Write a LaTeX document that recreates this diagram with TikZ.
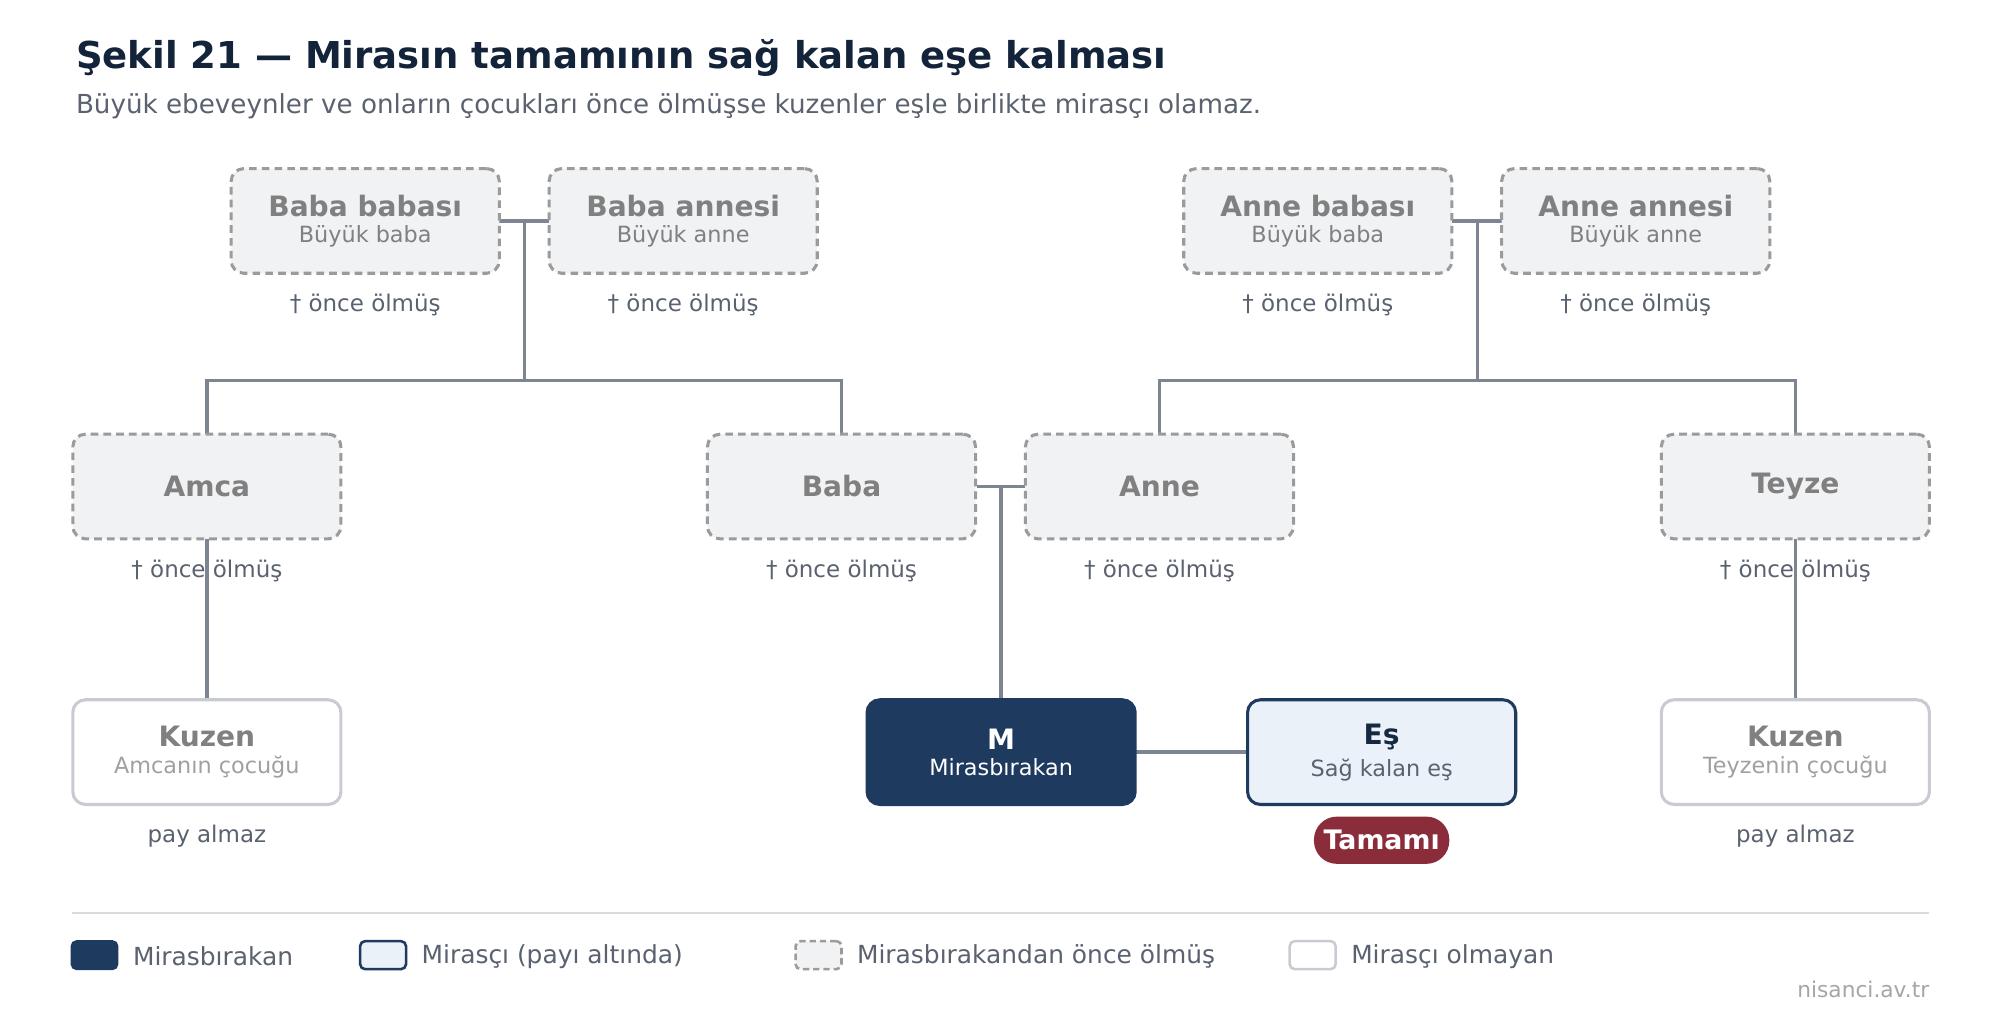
\documentclass[tikz,border=0pt]{standalone}
\usepackage{fontspec}
\setmainfont{DejaVu Sans}
\begin{document}
\definecolor{navy}{HTML}{1F3A5F}
\definecolor{lblue}{HTML}{EAF1F8}
\definecolor{dgray}{HTML}{9B9B9B}
\definecolor{dfill}{HTML}{F1F2F4}
\definecolor{gtext}{HTML}{808080}
\definecolor{lnc}{HTML}{7D8592}
\definecolor{nb}{HTML}{C8CCD2}
\definecolor{sub}{HTML}{5A6270}
\definecolor{redd}{HTML}{8B2C3A}
\begin{tikzpicture}[x=1pt,y=-1pt,
 box/.style={minimum width=210pt,minimum height=82pt,rounded corners=10pt,line width=2.4pt,align=center,inner sep=0pt},
 dead/.style={box,draw=dgray,fill=dfill,dash pattern=on 6pt off 4pt,text=gtext},
 non/.style={box,draw=nb,fill=white,text=gtext},
 ln/.style={draw=lnc,line width=2.6pt},
 lab/.style={font=\fontsize{18}{20}\selectfont,text=sub},
 mt/.style={font=\fontsize{22}{24}\selectfont\bfseries}]
\useasboundingbox (0,0) rectangle (1560,796);
\fill[white] (0,0) rectangle (1560,796);
\node[anchor=base west,font=\fontsize{29}{32}\selectfont\bfseries,text=navy!60!black] (t) at (56,54) {Şekil 21 — Mirasın tamamının sağ kalan eşe kalması};
\node[anchor=base west,font=\fontsize{20.5}{24}\selectfont,text=sub] (st) at (56,89) {Büyük ebeveynler ve onların çocukları önce ölmüşse kuzenler eşle birlikte mirasçı olamaz.};
% lines
\coordinate (pc) at (411,173); \coordinate (ph) at (411,298);
\coordinate (mc) at (1157,173); \coordinate (mh) at (1157,298);
\coordinate (pc2) at (784,381);
\draw[ln] (391,173) -- (430,173);
\draw[ln] (pc) -- (ph);
\draw[ln] (162,340) -- (162,298) -- (659,298) -- (659,340);
\draw[ln] (1137,173) -- (1176,173);
\draw[ln] (mc) -- (mh);
\draw[ln] (908,340) -- (908,298) -- (1406,298) -- (1406,340);
\draw[ln] (765,381) -- (803,381);
\draw[ln] (pc2) -- (784,547);
\draw[ln] (162,421) -- (162,547);
\draw[ln] (1406,421) -- (1406,547);
\draw[ln] (890,589) -- (976,589);
% nodes
\node[dead] (bb) at (286,173) {\fontsize{22}{24}\selectfont\bfseries Baba babası\\[6pt]\fontsize{17.5}{20}\selectfont Büyük baba};
\node[dead] (ba) at (535,173) {\fontsize{22}{24}\selectfont\bfseries Baba annesi\\[6pt]\fontsize{17.5}{20}\selectfont Büyük anne};
\node[dead] (ab) at (1032,173) {\fontsize{22}{24}\selectfont\bfseries Anne babası\\[6pt]\fontsize{17.5}{20}\selectfont Büyük baba};
\node[dead] (aa) at (1281,173) {\fontsize{22}{24}\selectfont\bfseries Anne annesi\\[6pt]\fontsize{17.5}{20}\selectfont Büyük anne};
\node[dead,mt] (amca) at (162,381) {Amca};
\node[dead,mt] (baba) at (659,381) {Baba};
\node[dead,mt] (anne) at (908,381) {Anne};
\node[dead,mt] (teyze) at (1406,381) {Teyze};
\node[non] (k1) at (162,589) {\fontsize{22}{24}\selectfont\bfseries Kuzen\\[6pt]\fontsize{17.5}{20}\selectfont\color{gtext!75} Amcanın çocuğu};
\node[non] (k2) at (1406,589) {\fontsize{22}{24}\selectfont\bfseries Kuzen\\[6pt]\fontsize{17.5}{20}\selectfont\color{gtext!75} Teyzenin çocuğu};
\node[box,draw=navy,fill=navy,text=white] (m) at (784,589) {\fontsize{22}{24}\selectfont\bfseries M\\[6pt]\fontsize{17.5}{20}\selectfont Mirasbırakan};
\node[box,draw=navy,fill=lblue,text=navy] (es) at (1082,589) {\fontsize{22}{24}\selectfont\bfseries\color{navy!70!black} Eş\\[6pt]\fontsize{17.5}{20}\selectfont\color{sub} Sağ kalan eş};
\node[fill=redd,text=white,rounded corners=18pt,minimum width=106pt,minimum height=37pt,font=\fontsize{21}{24}\selectfont\bfseries] (tam) at (1082,658) {Tamamı};
% labels
\foreach \n/\x/\y in {l1/286/239,l2/535/239,l3/1032/239,l4/1281/239,l5/162/447,l6/659/447,l7/908/447,l8/1406/447}
  \node[lab] (\n) at (\x,\y) {† önce ölmüş};
\node[lab] (p1) at (162,655) {pay almaz};
\node[lab] (p2) at (1406,655) {pay almaz};
% legend
\draw[draw=nb!70,line width=1.2pt] (56,715) -- (1511,715);
\node[draw=navy,fill=navy,rounded corners=4pt,minimum width=36pt,minimum height=22pt,inner sep=0pt,line width=1.5pt] (s1) at (74,748) {};
\node[draw=navy,fill=lblue,rounded corners=4pt,minimum width=36pt,minimum height=22pt,inner sep=0pt,line width=2pt] (s2) at (300,748) {};
\node[draw=dgray,fill=dfill,dash pattern=on 5pt off 3pt,rounded corners=4pt,minimum width=36pt,minimum height=22pt,inner sep=0pt,line width=2pt] (s3) at (641,748) {};
\node[draw=nb,fill=white,rounded corners=4pt,minimum width=36pt,minimum height=22pt,inner sep=0pt,line width=2pt] (s4) at (1028,748) {};
\foreach \n/\x/\t in {e1/104/Mirasbırakan,e2/330/Mirasçı (payı altında),e3/671/Mirasbırakandan önce ölmüş,e4/1058/Mirasçı olmayan}
  \node[anchor=west,inner sep=0pt,font=\fontsize{19.5}{22}\selectfont,text=sub] (\n) at (\x,749) {\t};
\node[anchor=east,inner sep=0pt,font=\fontsize{17}{20}\selectfont,text=gtext!70] (w) at (1511,775) {nisanci.av.tr};
\end{tikzpicture}
\end{document}
